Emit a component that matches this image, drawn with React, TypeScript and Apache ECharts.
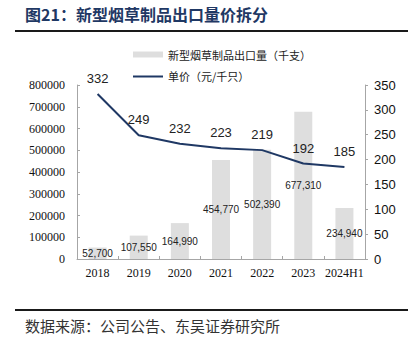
import React, { useEffect, useRef } from "react";
import * as echarts from "echarts";

const categories = ["2018", "2019", "2020", "2021", "2022", "2023", "2024H1"];
const volume = [52700, 107550, 164990, 454770, 502390, 677310, 234940];
const price = [332, 249, 232, 223, 219, 192, 185];
const volumeName = "新型烟草制品出口量（千支）";
const priceName = "单价（元/千只）";
const titleText = "图21：新型烟草制品出口量价拆分";
const sourceText = "数据来源：公司公告、东吴证券研究所";

const serif = "'Liberation Serif', 'Times New Roman', serif";
const sans = "'Liberation Sans', Arial, sans-serif";
const cjk = "'Noto Sans CJK SC', sans-serif";

export default function App() {
  const ref = useRef<HTMLDivElement>(null);
  useEffect(() => {
    if (!ref.current) return;
    const chart = echarts.init(ref.current, undefined, { renderer: "svg" });
    const axisGray = "#a6a6a6";
    chart.setOption({
      animation: false,
      backgroundColor: "#ffffff",
      grid: { left: 77, right: 52, top: 85, bottom: 86 },
      legend: {
        orient: "vertical",
        left: 128,
        top: 44,
        itemWidth: 30,
        itemHeight: 6,
        itemGap: 11,
        textStyle: { fontFamily: cjk, fontSize: 11, color: "#222" },
        data: [
          { name: volumeName, icon: "rect" },
          { name: priceName, icon: "path://M0,0 L30,0 L30,2 L0,2 Z" },
        ],
      },
      xAxis: {
        type: "category",
        data: categories,
        axisLine: { lineStyle: { color: axisGray } },
        axisTick: { show: true, inside: true, length: 3, lineStyle: { color: axisGray } },
        axisLabel: { interval: 0, fontFamily: serif, fontSize: 12, color: "#111", margin: 8 },
      },
      yAxis: [
        {
          type: "value",
          min: 0,
          max: 800000,
          interval: 100000,
          splitLine: { show: false },
          axisLine: { show: true, lineStyle: { color: axisGray } },
          axisTick: { show: true, inside: true, length: 3, lineStyle: { color: axisGray } },
          axisLabel: {
            fontFamily: serif,
            fontSize: 12,
            color: "#111",
            margin: 12,
            formatter: (v: number) => String(v),
          },
        },
        {
          type: "value",
          min: 0,
          max: 350,
          interval: 50,
          position: "right",
          splitLine: { show: false },
          axisLine: { show: true, lineStyle: { color: axisGray } },
          axisTick: { show: true, inside: false, length: 3, lineStyle: { color: axisGray } },
          axisLabel: { fontFamily: sans, fontSize: 13, color: "#111", margin: 9 },
        },
      ],
      series: [
        {
          name: volumeName,
          type: "bar",
          data: volume,
          barWidth: 18,
          itemStyle: { color: "#dedede" },
          label: {
            show: true,
            position: "inside",
            fontFamily: sans,
            fontSize: 10,
            color: "#222",
            formatter: (p: any) => Number(p.value).toLocaleString("en-US"),
          },
        },
        {
          name: priceName,
          type: "line",
          yAxisIndex: 1,
          data: price,
          symbol: "circle",
          symbolSize: 0.01,
          showSymbol: true,
          lineStyle: { color: "#1f3864", width: 2 },
          itemStyle: { color: "#1f3864" },
          label: {
            show: true,
            position: "top",
            distance: 9,
            fontFamily: sans,
            fontSize: 13,
            color: "#222",
          },
        },
      ],
      graphic: [
        {
          type: "text",
          left: 25,
          top: 6,
          style: {
            text: titleText,
            font: `bold 16px ${cjk}`,
            fill: "#1f3864",
          },
        },
        {
          type: "line",
          shape: { x1: 15, y1: 31, x2: 408, y2: 31 },
          style: { stroke: "#1a1a1a", lineWidth: 2 },
        },
        {
          type: "line",
          shape: { x1: 15, y1: 310, x2: 408, y2: 310 },
          style: { stroke: "#1a1a1a", lineWidth: 2 },
        },
        {
          type: "text",
          left: 25,
          top: 318,
          style: {
            text: sourceText,
            font: `15px ${cjk}`,
            fill: "#333",
          },
        },
      ],
    });
    return () => chart.dispose();
  }, []);
  return <div ref={ref} style={{ width: 417, height: 345, position: "absolute", left: 0, top: 0 }} />;
}
